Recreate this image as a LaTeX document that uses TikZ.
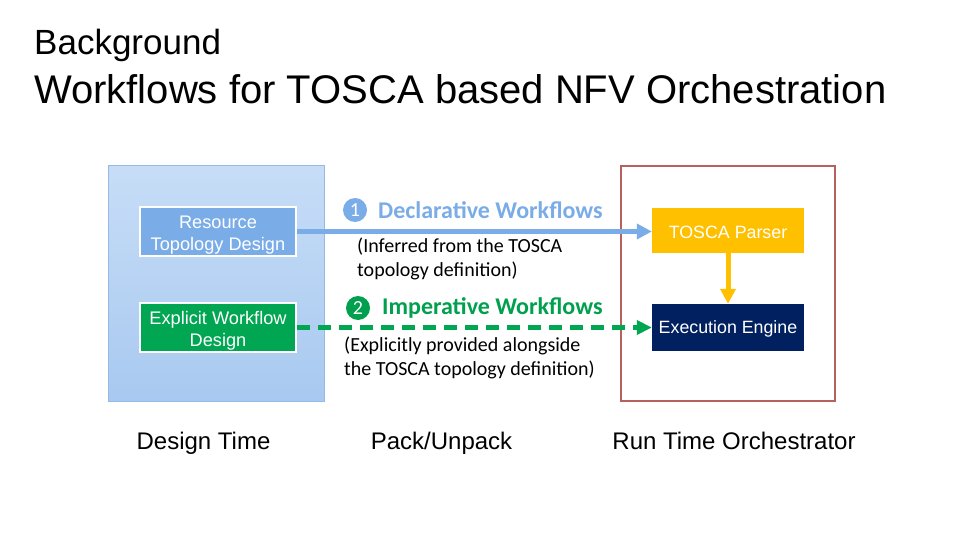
\documentclass[tikz,border=0pt]{standalone}
\usepackage{fontspec}
\setmainfont{Liberation Sans}
\newfontfamily\calfont{Carlito}
\usetikzlibrary{arrows.meta}
\definecolor{blueA}{RGB}{122,172,232}
\definecolor{greenA}{RGB}{0,166,81}
\definecolor{greenT}{RGB}{0,160,78}
\definecolor{panelTop}{RGB}{199,221,247}
\definecolor{panelBot}{RGB}{168,201,240}
\definecolor{panelLine}{RGB}{150,186,232}
\definecolor{redBox}{RGB}{184,96,92}
\definecolor{yellowA}{RGB}{255,192,0}
\definecolor{navyA}{RGB}{0,32,96}
\newcommand{\twoline}[2]{\raisebox{-4pt}[\height][\depth]{\begin{tabular}{@{}c@{}}#1\\#2\end{tabular}}}
\newcommand{\lowered}[1]{\raisebox{-1.5pt}[\height][\depth]{#1}}
\begin{document}
\begin{tikzpicture}[x=1pt,y=-1pt,
  fs/.style={font=\fontsize{#1}{#1}\selectfont},
  designbox/.style={draw=white,line width=2.5pt,minimum width=156pt,minimum height=49pt,inner sep=0pt,text=white,font=\fontsize{18.2}{22}\selectfont},
  runbox/.style={draw=none,minimum width=152pt,inner sep=0pt,text=white,font=\fontsize{17.8}{22}\selectfont},
  numcirc/.style={circle,inner sep=0pt,minimum size=24pt,text=white,font=\calfont\fontsize{20}{20}\selectfont},
  headlbl/.style={anchor=west,inner sep=0pt,font=\calfont\bfseries\fontsize{24}{24}\selectfont},
  notelbl/.style={anchor=west,inner sep=0pt,align=left,font=\calfont\fontsize{20}{24}\selectfont},
  bottomlbl/.style={anchor=base,inner sep=0pt,font=\fontsize{24}{24}\selectfont},
  conn/.style={line width=5pt},
]
\useasboundingbox[fill=white] (0,0) rectangle (960,540);

% titles
\node[anchor=base west,inner sep=0pt,fs=35] (bg) at (34,55) {Background};
\node[anchor=base west,inner sep=0pt,fs=40] (title) at (34,104) {Workflows for TOSCA based NFV Orchestration};

% left panel
\shade[top color=panelTop,bottom color=panelBot,draw=panelLine,line width=1pt] (108,166) rectangle (324,401);
\node[designbox,fill=blueA] (rtd) at (218,231.5) {\twoline{Resource}{Topology Design}};
\node[designbox,fill=greenA] (ewd) at (218,327.5) {\twoline{Explicit Workflow}{Design}};

% right box
\draw[redBox,line width=2pt] (621,166) rectangle (835,401);
\node[runbox,fill=yellowA,minimum height=45pt] (parser) at (728,230.5) {\lowered{TOSCA Parser}};
\node[runbox,fill=navyA,minimum height=47pt] (engine) at (728,327.5) {\lowered{Execution Engine}};

% connectors
\draw[conn,blueA,-{Triangle[length=15pt,width=15pt]}] (rtd.east) -- (rtd.east -| parser.west);
\draw[conn,greenA,dash pattern=on 13pt off 8pt,-{Triangle[length=15pt,width=14pt]}] (ewd.east) -- (ewd.east -| engine.west);
\draw[conn,yellowA,-{Triangle[length=15pt,width=15pt]}] (parser.south) -- (engine.north);

% labels
\node[numcirc,fill=blueA] (c1) at (355,210) {1};
\node[headlbl,text=blueA] (decl) at (378,210) {Declarative Workflows};
\node[notelbl] (declnote) at (357,259) {(Inferred from the TOSCA\\topology definition)};
\node[numcirc,fill=greenT] (c2) at (358,308) {2};
\node[headlbl,text=greenT] (imp) at (382,308) {Imperative Workflows};
\node[notelbl] (impnote) at (344,358) {(Explicitly provided alongside\\the TOSCA topology definition)};

% bottom labels
\node[bottomlbl] (dt) at (203.5,449) {Design Time};
\node[bottomlbl] (pu) at (441.5,449) {Pack/Unpack};
\node[bottomlbl] (rt) at (734,449) {Run Time Orchestrator};
\end{tikzpicture}
\end{document}
